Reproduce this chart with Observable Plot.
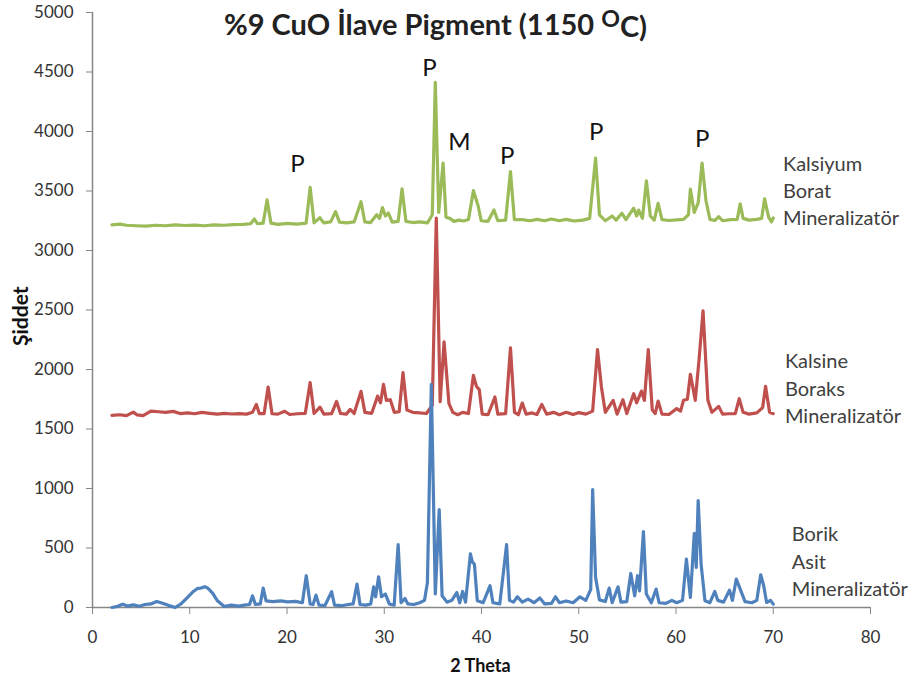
<!DOCTYPE html>
<html>
<head>
<meta charset="utf-8">
<script src="https://cdn.jsdelivr.net/npm/d3@7"></script>
<script src="https://cdn.jsdelivr.net/npm/@observablehq/plot@0.6"></script>
<style>
  html, body { margin: 0; padding: 0; background: #fff; }
  #chart svg { display: block; }
</style>
</head>
<body>
<div id="chart"></div>
<script>
// ---------- Data ----------
const titleMain = "%9 CuO İlave Pigment (1150 ";
const titleSup = "O";
const titleEnd = "C)";
const xLabel = "2 Theta";
const yLabel = "Şiddet";

const xTicks = [0, 10, 20, 30, 40, 50, 60, 70, 80];
const yTicks = [0, 500, 1000, 1500, 2000, 2500, 3000, 3500, 4000, 4500, 5000];

const seriesNames = ["Kalsiyum Borat Mineralizatör", "Kalsine Boraks Mineralizatör", "Borik Asit Mineralizatör"];
const seriesColors = ["#9BBB59", "#C0504D", "#4F81BD"];

// [2θ, intensity]
const kalsiyumBorat = [
  [2.0,3215],[2.8,3222],[3.5,3212],[4.5,3208],[5.5,3205],[6.5,3212],[7.5,3208],[8.5,3215],[9.5,3210],[10.5,3214],
  [11.5,3208],[12.5,3216],[13.5,3212],[14.5,3218],[15.5,3220],[16.25,3225],[16.65,3265],[16.95,3225],[17.55,3230],[17.95,3425],
  [18.35,3230],[19.05,3220],[20.05,3228],[21.05,3222],[21.97,3230],[22.38,3530],[22.78,3232],[23.38,3275],[23.78,3232],[24.49,3240],
  [24.99,3327],[25.4,3238],[26.1,3232],[26.9,3240],[27.61,3410],[28.0,3240],[28.6,3235],[29.22,3300],[29.52,3270],[29.82,3360],
  [30.12,3290],[30.42,3315],[30.82,3238],[31.43,3245],[31.83,3518],[32.23,3245],[32.93,3235],[33.64,3240],[34.44,3232],[34.94,3300],
  [35.25,4413],[35.6,3320],[36.05,3734],[36.35,3280],[36.75,3270],[37.16,3245],[37.66,3255],[38.16,3248],[38.66,3260],[39.17,3503],
  [39.67,3370],[39.97,3250],[40.67,3245],[41.28,3340],[41.68,3250],[42.48,3255],[42.98,3663],[43.38,3260],[44.19,3260],[44.99,3250],
  [45.7,3262],[46.5,3250],[47.2,3265],[48.0,3250],[48.71,3262],[49.52,3248],[50.42,3255],[51.12,3270],[51.73,3776],[52.13,3300],
  [52.73,3250],[53.44,3290],[53.84,3255],[54.44,3313],[54.85,3260],[55.65,3355],[55.95,3290],[56.15,3340],[56.55,3270],[56.96,3585],
  [57.36,3290],[57.76,3255],[58.16,3397],[58.56,3260],[59.27,3252],[60.07,3258],[60.77,3262],[61.28,3300],[61.48,3515],[61.88,3320],
  [62.28,3400],[62.68,3734],[63.08,3420],[63.49,3262],[63.99,3252],[64.39,3284],[64.79,3250],[65.6,3260],[66.3,3262],[66.6,3392],
  [66.9,3270],[67.5,3255],[68.31,3262],[68.81,3270],[69.11,3434],[69.52,3280],[69.82,3240],[70.0,3273]
];

const kalsineBoraks = [
  [2.0,1614],[2.8,1620],[3.5,1612],[4.2,1642],[4.6,1618],[5.2,1612],[6.0,1650],[6.8,1645],[7.5,1640],[8.3,1648],
  [9.0,1630],[9.8,1635],[10.5,1628],[11.25,1640],[12.05,1632],[12.85,1625],[13.55,1632],[14.35,1626],[15.05,1630],[15.85,1625],
  [16.45,1640],[16.85,1707],[17.15,1630],[17.65,1630],[18.06,1853],[18.46,1628],[19.06,1625],[19.77,1649],[20.27,1622],[21.08,1628],
  [21.88,1632],[22.38,1890],[22.78,1630],[23.39,1684],[23.79,1625],[24.59,1630],[25.1,1732],[25.5,1630],[26.1,1625],[26.5,1665],
  [26.9,1630],[27.61,1816],[28.01,1640],[28.71,1632],[29.32,1777],[29.62,1720],[29.92,1875],[30.22,1740],[30.62,1746],[31.03,1640],
  [31.53,1645],[31.93,1974],[32.33,1660],[32.93,1640],[33.64,1635],[34.34,1630],[34.94,1700],[35.35,3273],[35.75,1730],[36.15,2232],
  [36.65,1715],[37.05,1640],[37.56,1620],[38.06,1640],[38.66,1630],[39.17,1951],[39.47,1860],[39.77,1831],[40.07,1625],[40.67,1620],
  [41.38,1769],[41.68,1625],[42.48,1630],[42.98,2181],[43.39,1640],[43.79,1620],[44.19,1718],[44.59,1625],[45.2,1635],[45.7,1622],
  [46.2,1707],[46.7,1625],[47.41,1640],[48.01,1620],[48.71,1640],[49.42,1622],[50.02,1638],[50.73,1625],[51.43,1650],[51.93,2167],
  [52.33,1853],[52.73,1640],[53.54,1741],[53.94,1625],[54.54,1746],[54.94,1630],[55.65,1797],[55.95,1720],[56.45,1819],[56.75,1740],
  [57.15,2167],[57.56,1660],[57.86,1630],[58.16,1735],[58.56,1625],[59.27,1622],[60.07,1671],[60.47,1650],[60.77,1741],[61.17,1750],
  [61.48,1960],[61.98,1741],[62.38,2092],[62.78,2493],[63.28,1741],[63.69,1640],[64.39,1690],[64.79,1625],[65.5,1628],[66.1,1630],
  [66.5,1755],[66.9,1640],[67.5,1625],[68.31,1635],[68.91,1680],[69.21,1859],[69.62,1640],[70.0,1629]
];

const borikAsit = [
  [2.0,0],[2.6,10],[3.1,28],[3.6,12],[4.2,22],[4.8,10],[5.4,25],[6.0,30],[6.6,50],[7.2,35],
  [7.8,18],[8.5,0],[9.1,30],[9.7,79],[10.3,130],[10.8,160],[11.15,163],[11.55,175],[11.85,163],[12.35,120],
  [12.85,56],[13.55,8],[14.25,20],[15.05,12],[15.75,22],[16.15,25],[16.45,98],[16.75,25],[17.25,30],[17.55,163],
  [17.85,55],[18.55,50],[19.35,55],[20.07,48],[20.87,52],[21.58,40],[21.98,267],[22.38,30],[22.68,25],[22.98,104],
  [23.29,20],[23.89,15],[24.59,132],[24.89,20],[25.6,15],[26.3,25],[26.8,30],[27.2,197],[27.51,25],[28.11,20],
  [28.61,30],[28.91,174],[29.11,90],[29.42,258],[29.72,90],[30.12,113],[30.52,30],[31.02,20],[31.43,528],[31.73,40],
  [32.13,76],[32.43,30],[33.03,25],[33.64,40],[34.14,60],[34.44,210],[34.84,1876],[35.25,115],[35.65,823],[35.95,98],
  [36.45,45],[36.95,60],[37.46,126],[37.76,40],[38.06,135],[38.36,45],[38.86,450],[39.07,380],[39.27,365],[39.57,56],
  [40.17,40],[40.88,183],[41.18,40],[41.88,30],[42.58,528],[42.88,60],[43.29,45],[43.69,90],[44.19,45],[44.79,70],
  [45.4,40],[46.0,80],[46.5,30],[47.2,35],[47.61,90],[48.01,40],[48.71,55],[49.42,40],[50.12,90],[50.72,60],
  [51.23,150],[51.43,991],[51.73,253],[52.13,64],[52.73,50],[53.13,163],[53.44,40],[54.04,174],[54.34,45],[54.94,50],
  [55.35,286],[55.75,98],[56.05,267],[56.25,140],[56.65,638],[56.95,113],[57.46,40],[57.96,155],[58.26,40],[58.96,35],
  [59.57,60],[60.07,40],[60.67,60],[61.07,407],[61.48,84],[61.88,623],[62.08,337],[62.28,899],[62.58,365],[62.98,56],
  [63.49,40],[63.99,135],[64.29,60],[64.89,45],[65.5,146],[65.8,60],[66.2,239],[66.6,155],[67.1,50],[67.8,40],
  [68.31,60],[68.71,275],[69.02,183],[69.32,42],[69.72,60],[70.0,28]
];

// Peak annotations (phase letters) placed in data coordinates
const peakLetters = ["P", "P", "M", "P", "P", "P"];
const peakTheta   = [21.07, 34.64, 37.72, 42.65, 51.8, 62.7];
const peakLevel   = [3725, 4528, 3910, 3792, 3994, 3935];

// Series label annotations
const labelText  = ["Kalsiyum\nBorat\nMineralizatör", "Kalsine\nBoraks\nMineralizatör", "Borik\nAsit\nMineralizatör"];
const labelTheta = [71.0, 71.2, 71.9];
const labelLevel = [3515, 1855, 400];

// ---------- Build tables ----------
const seriesArrays = [kalsiyumBorat, kalsineBoraks, borikAsit];
const lineData = seriesArrays.flatMap((arr, i) =>
  arr.map(([t, v]) => ({theta: t, intensity: v, series: seriesNames[i]})));
const peaks = peakLetters.map((s, i) => ({s, theta: peakTheta[i], v: peakLevel[i]}));
const labels = labelText.map((s, i) => ({s, theta: labelTheta[i], v: labelLevel[i]}));
const fullTitle = titleMain + titleSup + titleEnd;

const axisGray = "#868686";
const textDark = "#333333";

const chart = Plot.plot({
  width: 916,
  height: 687,
  marginTop: 12,
  marginLeft: 92,
  marginRight: 46,
  marginBottom: 80,
  style: {fontFamily: "Lato, 'Open Sans', sans-serif", fontSize: "17px", background: "#fff", overflow: "visible"},
  x: {domain: [0, 80]},
  y: {domain: [0, 5000]},
  color: {domain: seriesNames, range: seriesColors},
  marks: [
    Plot.axisX({ticks: xTicks, tickSize: 7, tickPadding: 16, stroke: axisGray, fill: textDark, label: null, fontSize: 17}),
    Plot.axisY({ticks: yTicks, tickSize: 6, tickPadding: 13, stroke: axisGray, fill: textDark, label: null, fontSize: 17, tickFormat: d => String(d)}),
    Plot.ruleX([0], {stroke: axisGray, strokeWidth: 1.5}),
    Plot.ruleY([0], {stroke: axisGray, strokeWidth: 1.5}),
    Plot.line(lineData, {x: "theta", y: "intensity", z: "series", stroke: "series", strokeWidth: 3.2, strokeLinejoin: "round", strokeLinecap: "round", curve: "linear"}),
    Plot.text(peaks, {x: "theta", y: "v", text: "s", fontSize: 24, fill: "#111", lineAnchor: "middle"}),
    Plot.text(labels, {x: "theta", y: "v", text: "s", fontSize: 20, fill: "#404040", textAnchor: "start", lineAnchor: "middle", lineHeight: 1.37}),
    Plot.text([fullTitle], {frameAnchor: "top", dx: -46, dy: 13, lineAnchor: "middle", fontSize: 29, fontWeight: "bold", fill: "#222"}),
    Plot.text([yLabel], {frameAnchor: "left", dx: -71, dy: 36, rotate: -90, fontSize: 21, fontWeight: "bold", fill: "#111"}),
    Plot.text([xLabel], {frameAnchor: "bottom", dx: -1, dy: 64, fontSize: 18, fontWeight: "bold", fill: "#111"})
  ]
});

// Superscript "O" in the title (ºC)
d3.select(chart).selectAll("text").filter(function() { return this.textContent === fullTitle; })
  .each(function() {
    const t = d3.select(this);
    t.text(null);
    t.append("tspan").text(titleMain);
    t.append("tspan").attr("font-size", "0.8em").attr("dy", "-0.35em").text(titleSup);
    t.append("tspan").attr("dy", "0.35em").text(titleEnd);
  });

document.getElementById("chart").appendChild(chart);
</script>
</body>
</html>
